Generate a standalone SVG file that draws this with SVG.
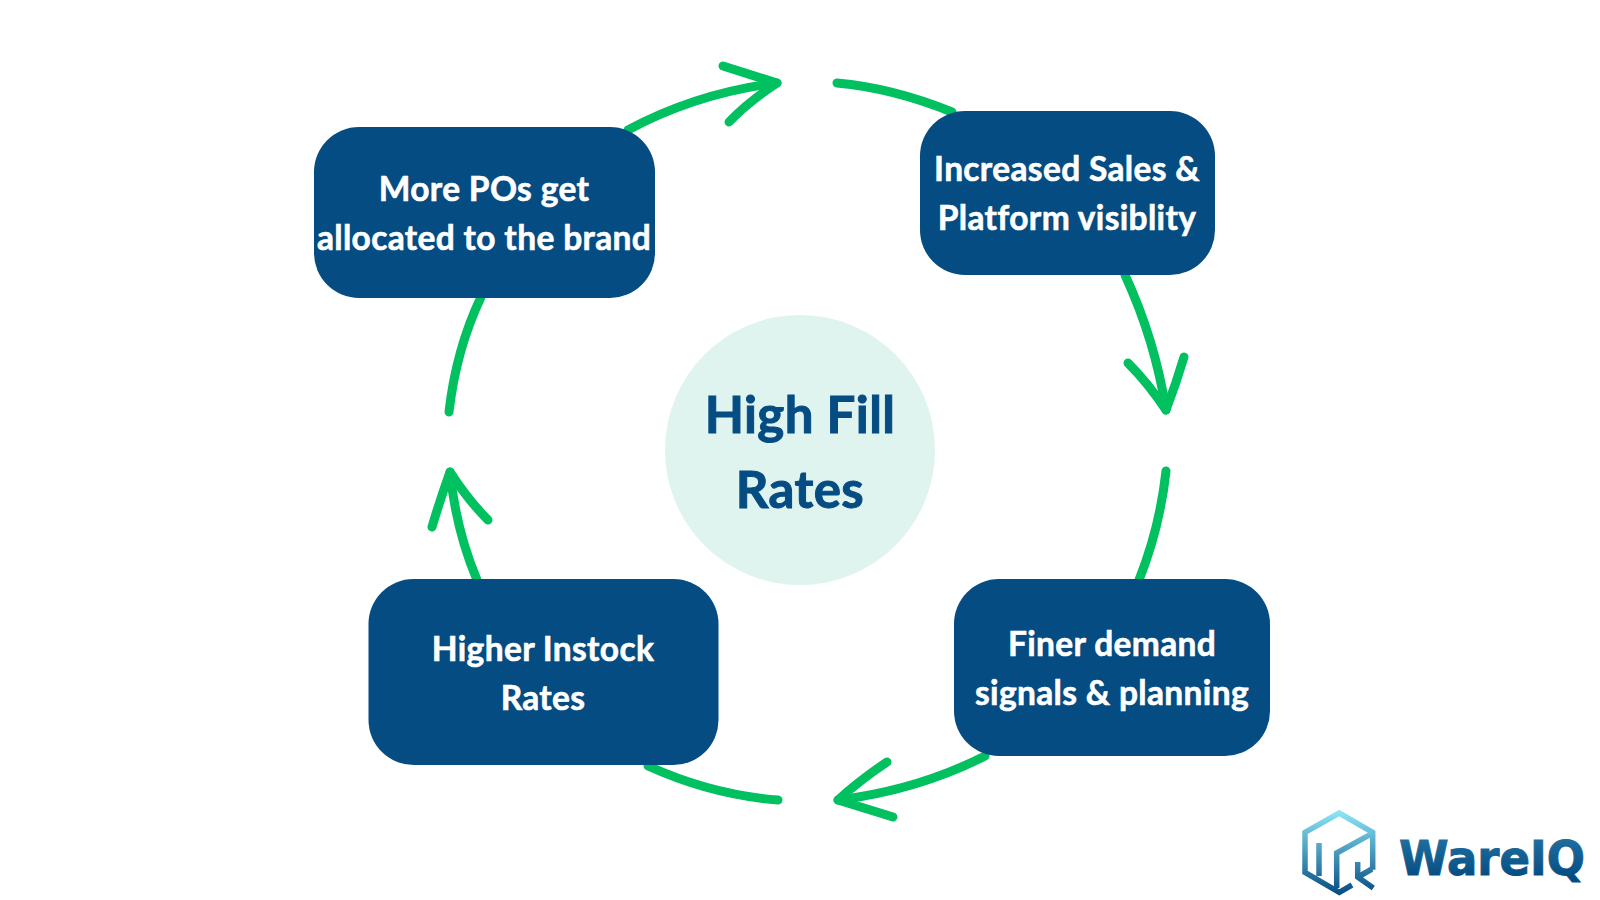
<svg xmlns="http://www.w3.org/2000/svg" width="1600" height="900" viewBox="0 0 1600 900">
<defs>
<linearGradient id="g1" gradientUnits="userSpaceOnUse" x1="1339" y1="810" x2="1339" y2="895"><stop offset="0" stop-color="#8fe8f8"/><stop offset="1" stop-color="#044c82"/></linearGradient>
<linearGradient id="g2" gradientUnits="userSpaceOnUse" x1="0" y1="838" x2="0" y2="878"><stop offset="0" stop-color="#1f6f9f"/><stop offset="1" stop-color="#044c82"/></linearGradient>
</defs>
<style>
.box{fill:#054c82}
.lbl{font:700 33.5px Lato,"Liberation Sans",sans-serif;letter-spacing:.35px;fill:#fff;stroke:#fff;stroke-width:.6;text-anchor:middle}
.ttl{font:700 51px Lato,"Liberation Sans",sans-serif;letter-spacing:.4px;fill:#054c82;stroke:#054c82;stroke-width:1;text-anchor:middle}
.arc{fill:none;stroke:#00c060;stroke-width:9;stroke-linecap:round;stroke-linejoin:round}
.ico{fill:none;stroke:url(#g1);stroke-width:5.5;stroke-linejoin:miter}
</style>
<rect width="1600" height="900" fill="#fff"/>
<g id="connectors" class="arc">
<path d="M628 130Q697 93 777 83"/><path d="M723 66L777 83Q748 102 729 122"/>
<path d="M837 83Q893 88 952 112"/>
<path d="M1125 275Q1155 340 1166 410"/><path d="M1128 363Q1148 383 1166 410Q1176 384 1184 357"/>
<path d="M1166 471Q1160 527 1139 580"/>
<path d="M985 756Q918 790 838 800"/><path d="M887 762Q860 780 838 800L893 817"/>
<path d="M778 800Q712 795 648 766"/>
<path d="M477 580Q456 530 450 472"/><path d="M432 527Q440 500 450 472Q468 500 488 520"/>
<path d="M449 412Q456 350 481 297"/>
</g>
<g id="center"><circle cx="800" cy="450" r="135" fill="#dff3ef"/>
<text class="ttl" x="800" y="433">High Fill</text>
<text class="ttl" x="800" y="508">Rates</text></g>
<g id="node-pos"><rect class="box" x="314" y="127" width="341" height="171" rx="45"/><text class="lbl" x="484" y="201">More POs get</text><text class="lbl" x="484" y="250">allocated to the brand</text></g>
<g id="node-sales"><rect class="box" x="920" y="111" width="295" height="164" rx="45"/><text class="lbl" x="1067" y="181">Increased Sales &amp;</text><text class="lbl" x="1067" y="230">Platform visiblity</text></g>
<g id="node-demand"><rect class="box" x="954" y="579" width="316" height="177" rx="45"/><text class="lbl" x="1112" y="656">Finer demand</text><text class="lbl" x="1112" y="705">signals &amp; planning</text></g>
<g id="node-instock"><rect class="box" x="368.500" y="579" width="350" height="186" rx="45"/><text class="lbl" x="543" y="661">Higher Instock</text><text class="lbl" x="543" y="710">Rates</text></g>
<g id="logo">
<path class="ico" d="M1372.700 869.700V832.300L1339.300 813L1305 832.300V872.300L1339.300 892.300L1352 885"/>
<path class="ico" d="M1319 843V876M1336.700 888V853L1370 834.700M1357.700 862V877L1373.300 888M1358 877L1372 869"/>
<text x="1399" y="875" textLength="186" lengthAdjust="spacingAndGlyphs" style="font:700 48px 'DejaVu Sans',sans-serif;fill:url(#g2);stroke:url(#g2);stroke-width:1">WareIQ</text></g>
</svg>
